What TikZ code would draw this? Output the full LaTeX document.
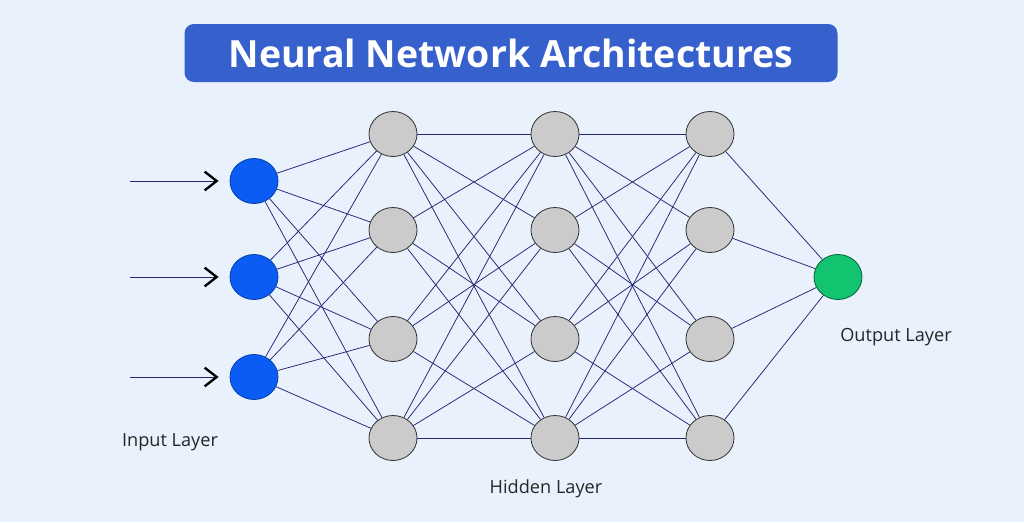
\documentclass[tikz,border=0pt]{standalone}
\usepackage{fontspec}
\setmainfont{Open Sans}
\usepackage{tikz}
\usetikzlibrary{positioning, shapes.geometric, arrows.meta}

\definecolor{pagebg}{HTML}{E9F1FD}
\definecolor{titleblue}{HTML}{3660CC}
\definecolor{inputblue}{HTML}{0A5CF5}
\definecolor{hiddengray}{HTML}{CBCBCB}
\definecolor{outputgreen}{HTML}{12C46F}
\definecolor{wirenavy}{HTML}{262673}

\begin{document}
\begin{tikzpicture}[
    x=0.03cm, y=-0.03cm,
    neuron/.style={ellipse, minimum width=1.44cm, minimum height=1.35cm, inner sep=0pt, line width=0.7pt},
    inneuron/.style={neuron, draw=inputblue!70!black, fill=inputblue},
    hidneuron/.style={neuron, draw=black!80, fill=hiddengray},
    outneuron/.style={neuron, draw=outputgreen!50!black, fill=outputgreen},
    wire/.style={draw=wirenavy, line width=0.65pt},
    layerlabel/.style={font=\fontsize{15.5}{18}\selectfont, text=black!85}
]
    % page and margins
    \fill[pagebg] (0,0) rectangle (1024,522);
    \useasboundingbox (0,0) rectangle (1024,522);

    % title
    \node[fill=titleblue, rounded corners=8pt, minimum width=653*0.03cm, minimum height=58*0.03cm,
          text=white, font=\fontsize{32}{36}\selectfont\bfseries] (title) at (511,53) {Neural Network Architectures};

    % input layer
    \node[inneuron] (in1) at (254,181) {};
    \node[inneuron] (in2) at (254,277) {};
    \node[inneuron] (in3) at (254,377) {};

    % hidden layers: columns a, b, c
    \foreach \col/\x in {a/393, b/555, c/710} {
        \node[hidneuron] (h\col1) at (\x,134) {};
        \node[hidneuron] (h\col2) at (\x,230) {};
        \node[hidneuron] (h\col3) at (\x,339) {};
        \node[hidneuron] (h\col4) at (\x,438) {};
    }

    % output layer
    \node[outneuron] (out) at (838,277) {};

    % incoming arrows
    \foreach \i/\y in {1/181, 2/277, 3/377} {
        \coordinate (src\i) at (130,\y);
        \draw[wire, shorten >=0.33cm, -{Straight Barb[length=0.36cm, width=0.56cm, line width=2pt, color=black]}] (src\i) -- (in\i.west);
    }

    % connections (no straight links between the two middle rows)
    \foreach \i in {1,2,3}
        \foreach \j in {1,2,3,4}
            \draw[wire] (in\i) -- (ha\j);
    \foreach \i/\j in {1/1, 1/2, 1/3, 1/4, 2/1, 2/3, 2/4, 3/1, 3/2, 3/4, 4/1, 4/2, 4/3, 4/4} {
        \draw[wire] (ha\i) -- (hb\j);
        \draw[wire] (hb\i) -- (hc\j);
    }
    \foreach \i in {1,2,3,4}
        \draw[wire] (hc\i) -- (out);

    % labels
    \node[layerlabel] (inlabel) at (170,442) {Input Layer};
    \node[layerlabel] (hidlabel) at (546,489) {Hidden Layer};
    \node[layerlabel] (outlabel) at (896,337) {Output Layer};
\end{tikzpicture}
\end{document}
